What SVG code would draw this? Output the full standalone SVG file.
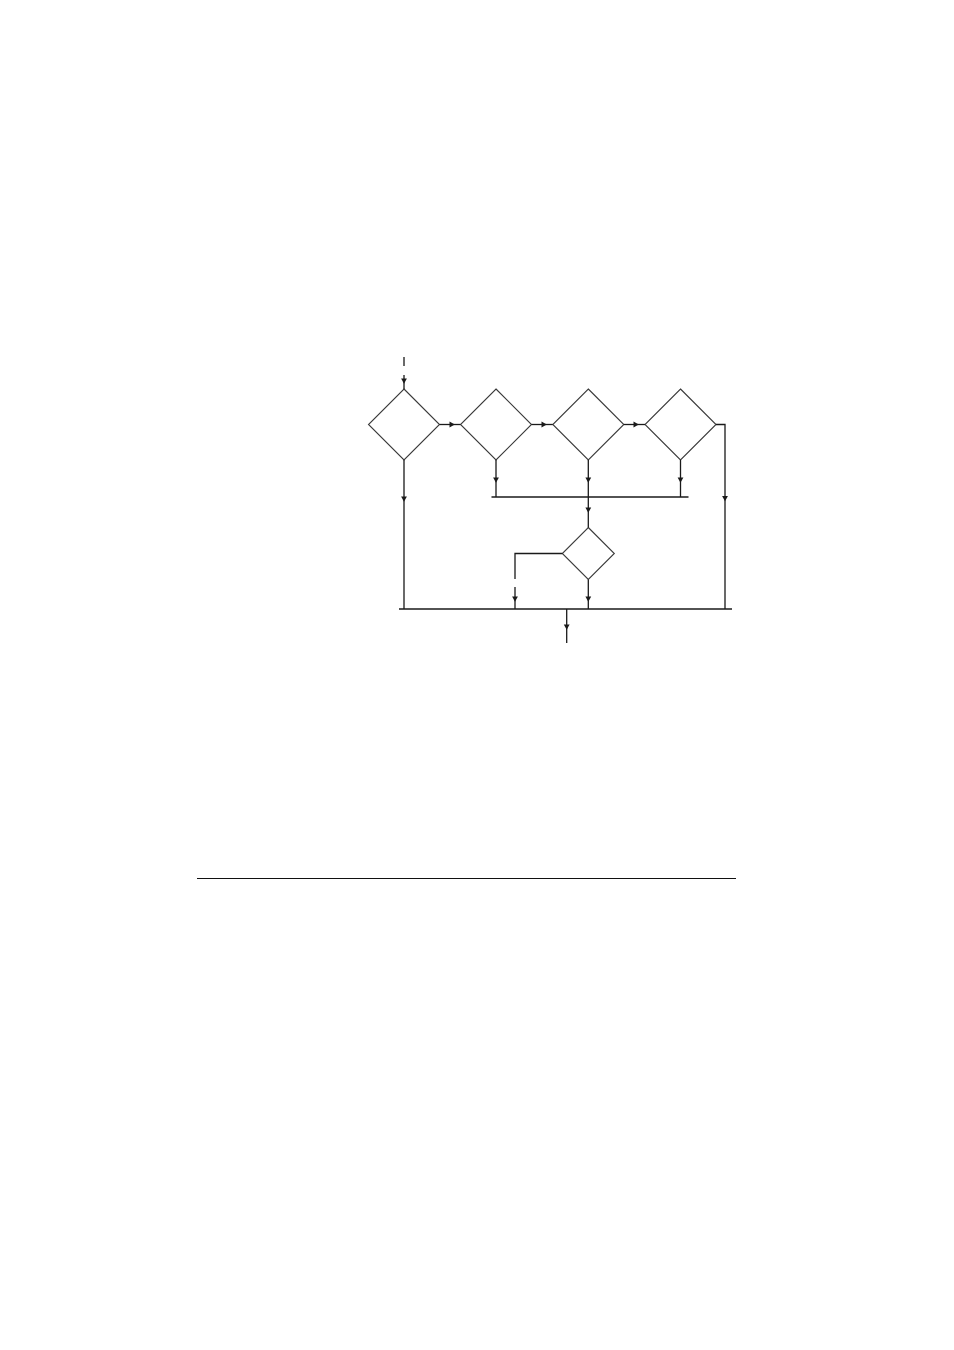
<svg xmlns="http://www.w3.org/2000/svg" xmlns:xlink="http://www.w3.org/1999/xlink" width="954" height="1350" viewBox="0 0 954 1350">
<style>
.node{fill:none;stroke:#3a3a3a;stroke-width:1.1}
.conn{fill:none;stroke:#1a1a1a;stroke-width:1.3}
.ah{fill:#1a1a1a;stroke:none}
</style>
<defs>
<path id="ad" class="ah" d="M-2.9,-4.5 L2.9,-4.5 L0,0.8 Z"/>
<path id="ar" class="ah" d="M-4.5,-2.9 L-4.5,2.9 L0.8,0 Z"/>
</defs>
<rect width="954" height="1350" fill="#fff"/>
<g id="d1"><polygon class="node" points="404,389 439.5,424.5 404,460 368.5,424.5"/></g>
<g id="d2"><polygon class="node" points="496,389 531.5,424.5 496,460 460.5,424.5"/></g>
<g id="d3"><polygon class="node" points="588.3,389 623.8,424.5 588.3,460 552.8,424.5"/></g>
<g id="d4"><polygon class="node" points="680.5,389 716,424.5 680.5,460 645,424.5"/></g>
<g id="d5"><polygon class="node" points="588.3,527.5 614.3,553.5 588.3,579.5 562.3,553.5"/></g>
<g id="connectors">
<path class="conn" d="M404,357 V366 M404,375 V389"/>
<use xlink:href="#ad" x="404" y="383"/>
<path class="conn" d="M439.5,424.5 H460.5"/>
<use xlink:href="#ar" x="454" y="424.5"/>
<path class="conn" d="M531.5,424.5 H552.8"/>
<use xlink:href="#ar" x="546" y="424.5"/>
<path class="conn" d="M623.8,424.5 H645"/>
<use xlink:href="#ar" x="638" y="424.5"/>
<path class="conn" d="M716,424.5 H725 V609"/>
<use xlink:href="#ad" x="725" y="500.5"/>
<path class="conn" d="M404,460 V609"/>
<use xlink:href="#ad" x="404" y="501"/>
<path class="conn" d="M496,460 V497 M588.3,460 V497 M680.5,460 V497"/>
<use xlink:href="#ad" x="496" y="482"/>
<use xlink:href="#ad" x="588.3" y="482"/>
<use xlink:href="#ad" x="680.5" y="482"/>
<path class="conn" d="M491.5,497 H688.5"/>
<path class="conn" d="M588.3,497 V527.5"/>
<use xlink:href="#ad" x="588.3" y="512"/>
<path class="conn" d="M562.3,553.5 H515 V579 M515,587 V609"/>
<use xlink:href="#ad" x="515" y="601"/>
<path class="conn" d="M588.3,579.5 V609"/>
<use xlink:href="#ad" x="588.3" y="601"/>
<path class="conn" d="M399,609 H732"/>
<path class="conn" d="M566.7,609 V643"/>
<use xlink:href="#ad" x="566.7" y="629"/>
</g>
<line x1="197" y1="878.5" x2="736" y2="878.5" stroke="#111" stroke-width="1.2"/>
</svg>
